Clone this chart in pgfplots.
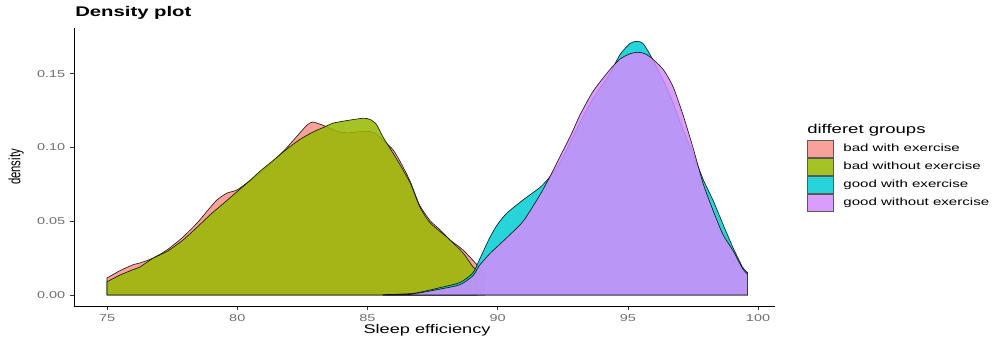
\documentclass[border=0pt]{standalone}
\usepackage{graphicx}
\usepackage{pgfplots}
\pgfplotsset{compat=1.18}
\usepackage{fontspec}
\setmainfont[FakeStretch=1.45]{Liberation Sans}
\newfontfamily\plainsans{Liberation Sans}
\definecolor{cred}{RGB}{248,146,137}
\definecolor{cgreen}{RGB}{150,185,0}
\definecolor{ccyan}{RGB}{0,205,210}
\definecolor{cpurple}{RGB}{212,140,252}
\definecolor{ticklab}{HTML}{6E6E6E}
\begin{document}
\begin{tikzpicture}
\path[use as bounding box] (-55.5pt,-27pt) rectangle (691.5pt,229.5pt);
\begin{axis}[
  at={(0,0)}, anchor=south west,
  width=525.75pt, height=208.5pt, scale only axis,
  xmin=73.73, xmax=100.65, ymin=-0.0075, ymax=0.181,
  axis x line*=bottom, axis y line*=left,
  axis line style={black, line width=0.6pt, -},
  xtick={75,80,85,90,95,100}, ytick={0,0.05,0.1,0.15},
  scaled y ticks=false,
  y tick label style={/pgf/number format/.cd, fixed, fixed zerofill, precision=2, /tikz/.cd},
  /pgf/number format/assume math mode=true,
  tick align=outside, major tick length=3pt,
  tick style={color=black!80, line width=0.5pt},
  tick label style={font=\fontsize{7.5}{9}\selectfont, text=ticklab},
  xlabel={Sleep efficiency},
  xlabel style={at={(axis description cs:0.5036,-0.086)}, anchor=center, font=\fontsize{9.4}{11}\selectfont},
  ylabel={\scalebox{1}[1.45]{density}},
  ylabel style={at={(axis description cs:-0.0827,0.5)}, anchor=center, font=\plainsans\fontsize{8.5}{10}\selectfont},
  clip=false,
  legend image code/.code={\draw[#1, draw=black!65, draw opacity=1, line width=0.8pt] (0pt,-6.4pt) rectangle (19.5pt,6.4pt);},
  legend cell align=left,
  legend style={at={(1.0457,0.599)}, anchor=north west, draw=none, fill=none,
    inner sep=0pt, row sep=0pt, column sep=6.75pt,
    font=\fontsize{7.8}{9}\selectfont, nodes={inner sep=0pt, outer sep=0pt}},
  every axis plot/.append style={draw=black, draw opacity=0.85, line width=0.5pt, fill opacity=0.85, smooth, tension=0.4},
]
\addplot[fill=cred] coordinates {
(75,0.0115)(75.5,0.0165)(76.0,0.0205)(76.27,0.0217)(76.77,0.025)(77.3,0.0305)(77.9,0.039)(78.46,0.0488)(78.85,0.057)(79.22,0.0644)(79.6,0.069)(79.99,0.0712)(80.45,0.077)(80.88,0.0828)(81.4,0.091)(81.91,0.100)(82.41,0.110)(82.7,0.1155)(82.91,0.1172)(83.3,0.1150)(83.83,0.111)(84.2,0.1100)(84.6,0.1105)(84.98,0.111)(85.3,0.1095)(85.6,0.105)(86.0,0.098)(86.3,0.089)(86.64,0.077)(87.0,0.061)(87.4,0.0505)(87.79,0.0441)(88.17,0.0373)(88.67,0.0305)(89.21,0.0204)(89.5,0.015)
} \closedcycle;
\addlegendentry{bad with exercise}
\addplot[fill=cgreen] coordinates {
(75,0.009)(75.5,0.0135)(76.0,0.0172)(76.27,0.019)(76.77,0.025)(77.3,0.0295)(77.9,0.037)(78.46,0.046)(79.0,0.055)(79.5,0.0625)(79.99,0.070)(80.45,0.077)(80.88,0.084)(81.4,0.0915)(81.91,0.099)(82.41,0.1055)(82.91,0.1105)(83.3,0.1135)(83.68,0.1165)(84.3,0.1185)(84.83,0.1198)(85.1,0.119)(85.35,0.1155)(85.6,0.107)(86.14,0.0916)(86.64,0.076)(87.0,0.060)(87.4,0.049)(88.06,0.039)(88.67,0.0285)(89.05,0.019)(89.2,0.017)
} \closedcycle;
\addlegendentry{bad without exercise}
\addplot[fill=ccyan] coordinates {
(85.6,0.0002)(86.75,0.001)(87.8,0.005)(88.56,0.0085)(89.05,0.015)(89.3,0.024)(89.7,0.039)(90.0,0.048)(90.36,0.0556)(90.98,0.0645)(91.63,0.073)(92.0,0.080)(92.4,0.090)(92.8,0.104)(93.16,0.117)(93.66,0.133)(94.3,0.150)(94.7,0.163)(95.08,0.1705)(95.35,0.172)(95.58,0.1705)(95.85,0.163)(96.35,0.146)(96.74,0.130)(97.12,0.112)(97.5,0.096)(97.9,0.078)(98.3,0.063)(98.65,0.048)(99.04,0.032)(99.4,0.019)(99.6,0.015)
} \closedcycle;
\addlegendentry{good with exercise}
\addplot[fill=cpurple] coordinates {
(85.6,0.0002)(86.75,0.0008)(87.8,0.004)(88.56,0.007)(89.05,0.013)(89.3,0.020)(89.7,0.028)(90.0,0.033)(90.36,0.039)(90.98,0.050)(91.63,0.068)(92.0,0.080)(92.4,0.094)(92.8,0.108)(93.16,0.122)(93.66,0.138)(94.3,0.1526)(94.7,0.160)(95.08,0.1635)(95.35,0.1645)(95.58,0.164)(95.85,0.1615)(96.35,0.153)(96.74,0.141)(97.12,0.122)(97.5,0.100)(97.9,0.075)(98.3,0.056)(98.65,0.041)(99.04,0.030)(99.4,0.018)(99.6,0.014)
} \closedcycle;
\addlegendentry{good without exercise}
\node[anchor=west, inner sep=0pt, font=\fontsize{9.6}{11}\selectfont] at (axis description cs:1.0457,0.633) {differet groups};
\node[anchor=west, inner sep=0pt, font=\bfseries\fontsize{10.5}{12}\selectfont] at (axis description cs:0.0014,1.054) {Density plot};
\end{axis}
\end{tikzpicture}
\end{document}
